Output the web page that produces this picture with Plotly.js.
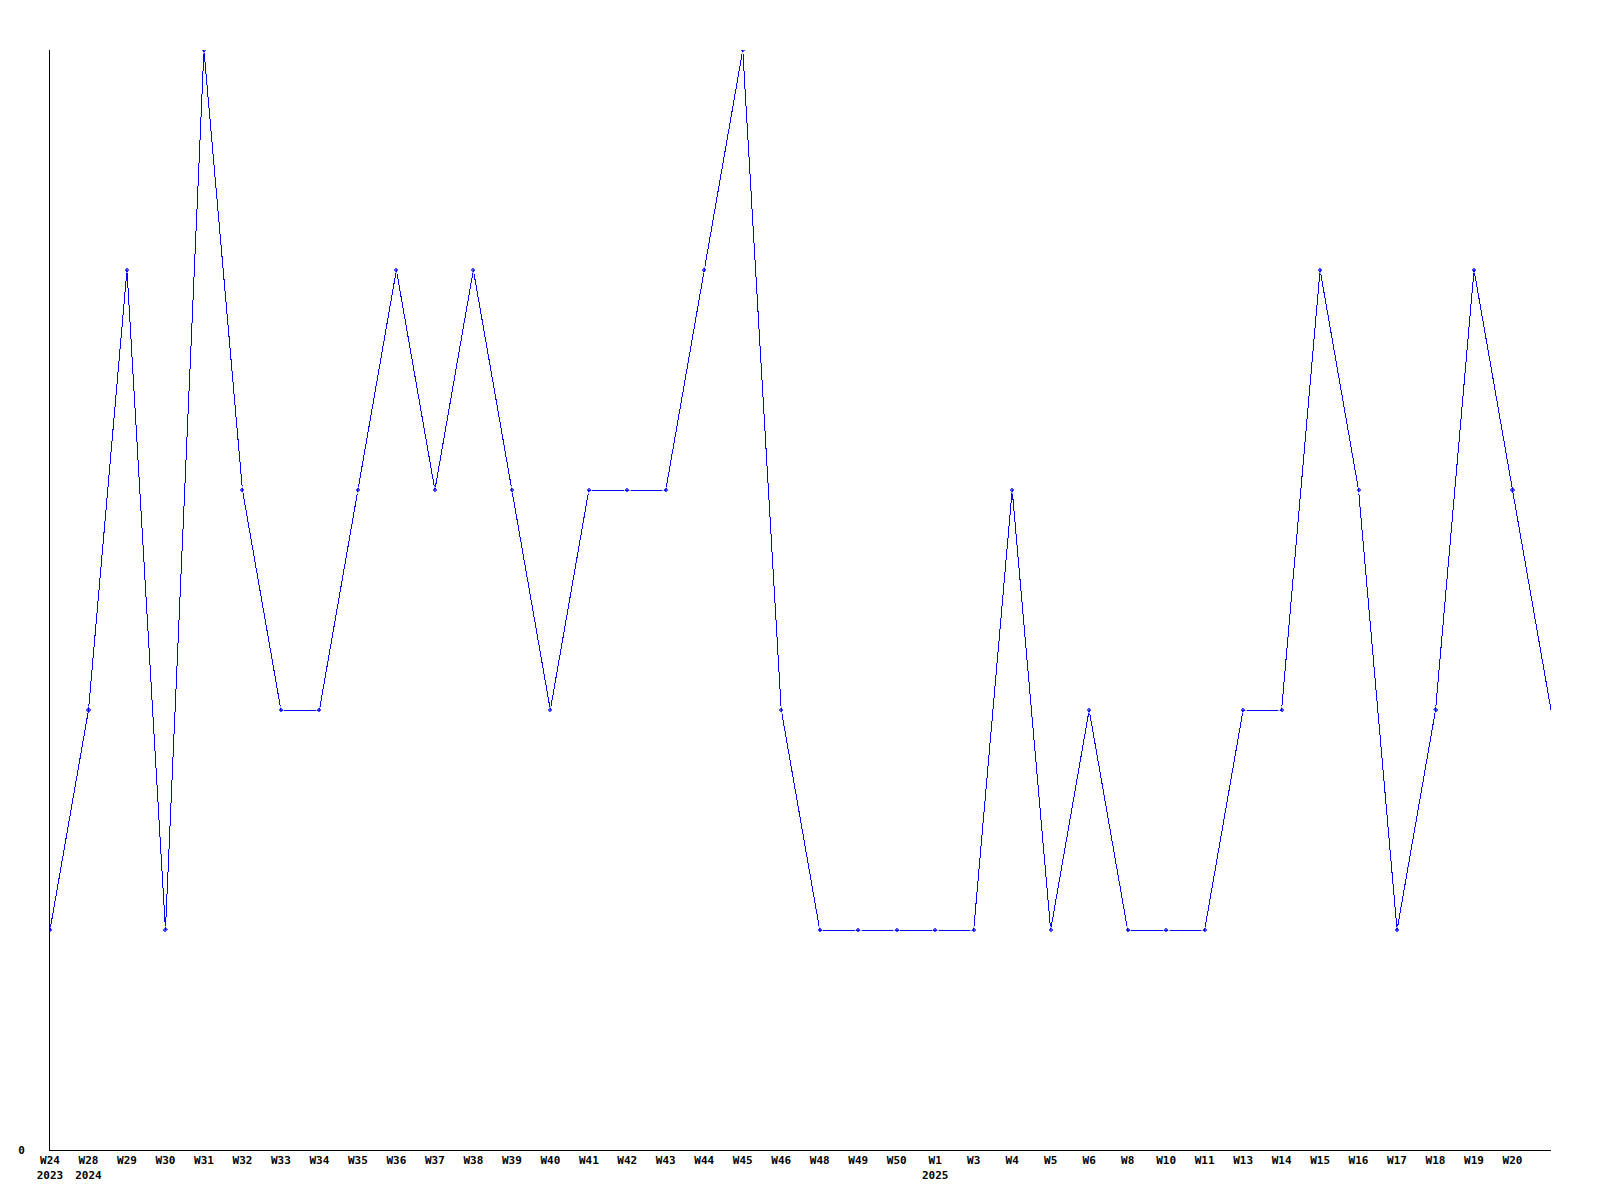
<!DOCTYPE html>
<html>
<head>
<meta charset="utf-8">
<script src="https://cdn.plot.ly/plotly-3.0.1.min.js"></script>
<style>
html,body{margin:0;padding:0;background:#fff;}
#chart{width:1600px;height:1200px;}
#chart .js-line, #chart .point, #chart .xlines-above, #chart .ylines-above{shape-rendering:crispEdges;}
</style>
</head>
<body>
<div id="chart"></div>
<script>
// Week labels (one per plotted point)
const weeks = ["W24","W28","W29","W30","W31","W32","W33","W34","W35","W36","W37","W38","W39","W40","W41","W42","W43","W44","W45","W46","W48","W49","W50","W1","W3","W4","W5","W6","W8","W10","W11","W13","W14","W15","W16","W17","W18","W19","W20"];
// Year shown under the first week of each year
const years = ["2023","2024","","","","","","","","","","","","","","","","","","","","","","2025","","","","","","","","","","","","","","",""];
// Values per week
const values = [1,2,4,1,5,3,2,2,3,4,3,4,3,2,3,3,3,4,5,2,1,1,1,1,1,3,1,2,1,1,1,2,2,4,3,1,2,4,3];
// Next (unlabelled) value where the line runs off the right edge
const nextValue = [2];

const allValues = values.concat(nextValue);
const xs = allValues.map((v, i) => i);
const sizes = allValues.map((v, i) => i < values.length ? 5 : 0);
const ticktext = weeks.map((w, i) => years[i] ? w + "<br>" + years[i] : w);
const tickvals = weeks.map((w, i) => i);

const trace = {
  x: xs,
  y: allValues,
  type: "scatter",
  mode: "lines+markers",
  line: {color: "#0000ff", width: 1},
  marker: {color: "#0000ff", size: sizes, symbol: "diamond"},
  hoverinfo: "skip"
};

const font = {family: "DejaVu Sans Mono, monospace", size: 11, color: "#000", weight: "bold"};

const layout = {
  width: 1600,
  height: 1200,
  margin: {l: 50, r: 49, t: 50, b: 50},
  paper_bgcolor: "#fff",
  plot_bgcolor: "#fff",
  showlegend: false,
  xaxis: {
    range: [0, values.length],
    tickvals: tickvals,
    ticktext: ticktext,
    tickfont: font,
    showgrid: false,
    zeroline: false,
    showline: true,
    linecolor: "#000",
    linewidth: 1,
    ticks: "",
    fixedrange: true
  },
  yaxis: {
    range: [0, 5],
    tickvals: [0],
    ticktext: ["0"],
    tickfont: font,
    showgrid: false,
    zeroline: false,
    showline: true,
    linecolor: "#000",
    linewidth: 1,
    ticks: "",
    ticklabelstandoff: 22,
    fixedrange: true
  }
};

Plotly.newPlot("chart", [trace], layout, {displayModeBar: false, staticPlot: true});
</script>
</body>
</html>
